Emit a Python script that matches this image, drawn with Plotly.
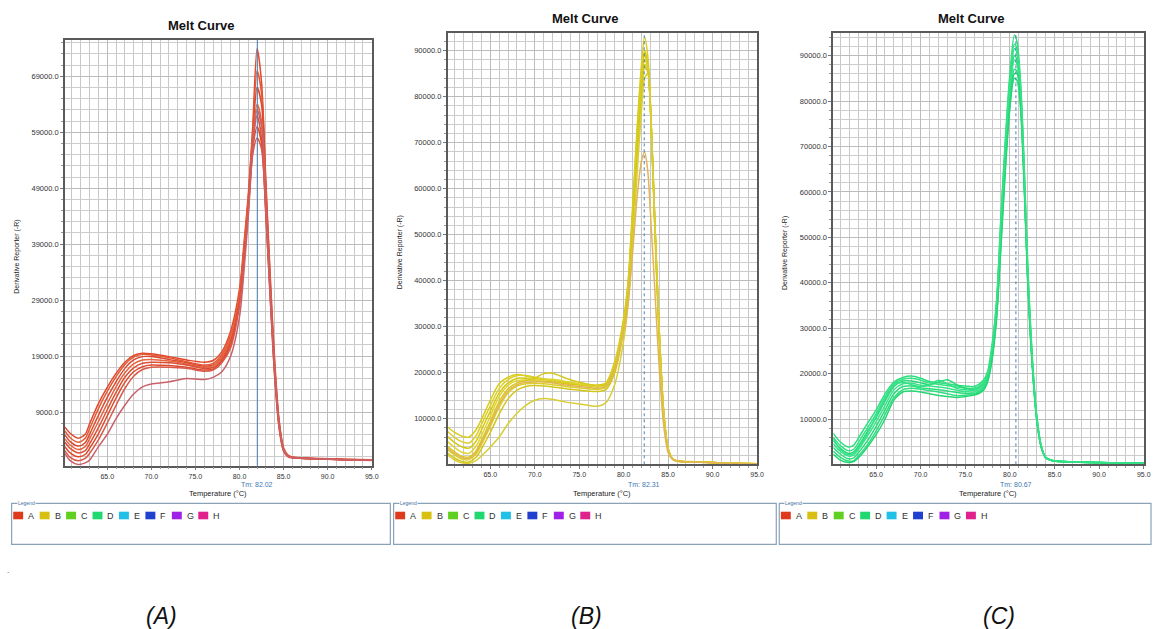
import plotly.graph_objects as go

# ---------------- DATA ----------------
temps_a = [60.2, 60.8, 61.7, 62.5, 63, 64, 65, 66, 67, 68, 69, 70, 72, 74, 76, 77, 78, 79, 80,
           80.5, 81, 81.5, 82, 82.5, 83, 83.5, 84, 84.5, 85, 85.5, 86, 88, 90, 92, 95]
curves_a = [
    [6300, 5200, 4300, 5000, 6900, 10500, 13400, 15900, 17900, 19100, 19500, 19400, 18900, 18300, 17900, 18200, 19800, 23500, 31000, 39000, 48000, 60000, 74000, 68000, 50000, 33000, 18000, 7500, 2600, 1300, 950, 750, 650, 550, 450],
    [5600, 4400, 3600, 4300, 6000, 9600, 12700, 15300, 17500, 18800, 19300, 19200, 18700, 18000, 17400, 17700, 19300, 22800, 30000, 38000, 47000, 59000, 70000, 66000, 49000, 32000, 17000, 7000, 2400, 1200, 900, 700, 600, 500, 400],
    [4900, 3700, 2900, 3500, 5000, 8400, 11600, 14400, 16800, 18300, 18900, 18900, 18400, 17800, 17200, 17400, 18900, 22000, 29000, 37000, 46000, 58000, 67000, 64000, 48000, 31000, 16500, 6800, 2300, 1150, 850, 680, 580, 480, 380],
    [4200, 3100, 2300, 2800, 4200, 7300, 10500, 13500, 16000, 17600, 18300, 18400, 18100, 17600, 17000, 17300, 18800, 22300, 30000, 38000, 47000, 58000, 64000, 61000, 47000, 31000, 17000, 7000, 2400, 1200, 880, 700, 600, 500, 400],
    [3600, 2500, 1700, 2100, 3300, 6200, 9400, 12500, 15200, 16900, 17700, 17900, 17800, 17400, 16800, 17000, 18400, 21500, 29000, 37000, 46000, 57000, 62000, 58000, 45000, 30000, 16000, 6500, 2200, 1100, 850, 680, 580, 480, 380],
    [2800, 1700, 1000, 1400, 2500, 5100, 8300, 11500, 14300, 16200, 17100, 17400, 17300, 17000, 16500, 16700, 18100, 21000, 28500, 36000, 45000, 56000, 60000, 57000, 44000, 29000, 15500, 6300, 2100, 1050, 820, 660, 560, 460, 360],
    [2100, 900, 300, 700, 1600, 4000, 7000, 10200, 13200, 15400, 16600, 17000, 17000, 16800, 16300, 16500, 17800, 20500, 28000, 36000, 45000, 55000, 58000, 56000, 44000, 29000, 15000, 6000, 2000, 1000, 800, 650, 550, 450, 350],
    [1600, 300, -400, -100, 400, 2800, 5000, 7800, 10200, 12200, 13500, 14000, 14400, 15000, 14800, 15200, 16200, 19000, 26000, 34000, 44000, 56000, 63000, 60000, 46000, 30000, 16000, 6500, 2200, 1100, 850, 680, 580, 480, 380],
]
colors_a = ["#e2482a", "#e55a35", "#d94a30", "#e8643f", "#dc5038", "#e04a2c", "#d85a4a", "#c9606a"]

temps_b = [60.2, 61, 61.8, 62.6, 63.4, 64, 65, 66, 67, 68, 69, 70, 71, 72, 73.5, 75, 76, 77, 78, 79, 80,
           80.5, 81, 81.5, 82, 82.35, 82.7, 83, 83.5, 84, 84.5, 85, 85.5, 86, 88, 90, 92, 95]
curves_b = [
    [8200, 7000, 6200, 6000, 7600, 9800, 14000, 17600, 19000, 19600, 19300, 18800, 18500, 18300, 17900, 17600, 17400, 17300, 17800, 22500, 32000, 40000, 56000, 73000, 87000, 93000, 89000, 79000, 52000, 28000, 11000, 3300, 1300, 820, 620, 470, 320, 180],
    [7200, 5900, 5000, 4700, 6300, 8700, 12800, 16600, 18500, 19400, 19400, 19000, 18700, 18400, 17800, 17400, 17200, 17100, 17600, 22000, 31500, 39500, 55000, 72000, 85000, 90000, 87500, 78000, 51000, 27000, 10500, 3100, 1250, 800, 600, 450, 300, 170],
    [6100, 4800, 3900, 3600, 5100, 7500, 11600, 15600, 17800, 18800, 18800, 18400, 18200, 18000, 17600, 17300, 17100, 16900, 17300, 21500, 31000, 39000, 54000, 71000, 84000, 89500, 87000, 78000, 52000, 28000, 11000, 3300, 1300, 820, 620, 470, 320, 180],
    [5000, 3700, 2700, 2500, 4000, 6300, 10500, 14800, 17300, 18300, 18400, 18200, 18300, 18600, 18100, 17600, 17300, 17000, 17200, 21000, 30500, 38500, 53000, 69000, 82000, 88000, 86500, 78000, 53000, 29000, 11500, 3500, 1350, 840, 640, 480, 320, 180],
    [4000, 2800, 1800, 1700, 3000, 5300, 9400, 13700, 16500, 17800, 18300, 18800, 19800, 19900, 18800, 17900, 17500, 17200, 17500, 21500, 31000, 39000, 54000, 70000, 83000, 89000, 87000, 78500, 53000, 29000, 11500, 3400, 1300, 820, 620, 470, 320, 180],
    [3200, 2100, 1200, 1100, 2300, 4300, 8300, 12500, 15600, 17100, 17600, 17700, 17600, 17400, 17000, 16700, 16500, 16400, 16800, 20500, 30000, 38000, 52000, 68000, 81000, 87000, 86000, 78000, 53000, 29000, 11500, 3400, 1300, 820, 620, 470, 320, 180],
    [2500, 1400, 700, 600, 1600, 3400, 7000, 11000, 14300, 16200, 17000, 17200, 17100, 16900, 16500, 16200, 16000, 15900, 16300, 20000, 29500, 37500, 51000, 67000, 80000, 86500, 85500, 77500, 52500, 28500, 11200, 3300, 1250, 800, 600, 450, 300, 170],
    [2100, 1000, 400, 300, 900, 1900, 3800, 6000, 8900, 11200, 12900, 14000, 14400, 14200, 13600, 13200, 12900, 12700, 13500, 17500, 27000, 35000, 48000, 63000, 77000, 84000, 85000, 78000, 53000, 29000, 11500, 3400, 1300, 820, 620, 470, 320, 180],
    [3600, 2400, 1500, 1400, 2700, 4800, 8800, 13000, 16000, 17400, 17900, 18000, 18000, 17800, 17300, 17000, 16800, 16600, 17000, 20800, 29000, 35000, 46000, 58000, 66000, 68000, 64000, 55000, 38000, 21000, 8500, 2600, 1100, 760, 570, 430, 280, 160],
]
colors_b = ["#d8cc1c", "#dccf2a", "#d4c816", "#e0d430", "#d6ca20", "#dbd028", "#d2c61a", "#d8cd36", "#e3b455"]

temps_c = [60.2, 61, 61.9, 62.5, 63, 64, 65, 66, 67, 68, 69, 70, 71, 72, 73, 74, 75, 76, 77, 77.5, 78,
           78.5, 79, 79.5, 80, 80.5, 80.8, 81.2, 81.6, 82, 82.5, 83, 83.5, 84, 84.5, 85, 86, 88, 90, 92, 95]
curves_c = [
    [6900, 5000, 3900, 4300, 5800, 9000, 12000, 15600, 18200, 19200, 19500, 19000, 18300, 18000, 17800, 17500, 17300, 17200, 18500, 20500, 26500, 36000, 55000, 72000, 86000, 94500, 93000, 84000, 66000, 44000, 24000, 11000, 4300, 1700, 1100, 850, 700, 580, 480, 400, 320],
    [6000, 4200, 3100, 3400, 4800, 8000, 11200, 14900, 17800, 18800, 19000, 18600, 18000, 17700, 17400, 17100, 16900, 16800, 18000, 20000, 25500, 35000, 53000, 70000, 84000, 91500, 90500, 82000, 64000, 42000, 23000, 10500, 4100, 1600, 1050, 820, 680, 560, 460, 380, 300],
    [5300, 3600, 2500, 2800, 4000, 7200, 10300, 14000, 17200, 18400, 18400, 18000, 17600, 18200, 18700, 17600, 16800, 16500, 17600, 19600, 25000, 34500, 52000, 69000, 83000, 90000, 89000, 81000, 63000, 41000, 22500, 10200, 4000, 1600, 1050, 820, 680, 560, 460, 380, 300],
    [4600, 2900, 1900, 2100, 3300, 6200, 9400, 13000, 16500, 17800, 17900, 17500, 17300, 17100, 16800, 16400, 16100, 16000, 17200, 19200, 24500, 34000, 51000, 68000, 82000, 89000, 88000, 80500, 63000, 41000, 22500, 10200, 4000, 1600, 1050, 820, 680, 560, 460, 380, 300],
    [3800, 2300, 1300, 1500, 2600, 5200, 8400, 12000, 15600, 17200, 17300, 16900, 16700, 16500, 16200, 15900, 15700, 15600, 16800, 18800, 24000, 33000, 50000, 67000, 80000, 87000, 86500, 79500, 62000, 40000, 22000, 10000, 3900, 1550, 1000, 800, 660, 540, 440, 360, 280],
    [3000, 1600, 800, 900, 1900, 4300, 7400, 11000, 14800, 16500, 16800, 16600, 16300, 16000, 15600, 15200, 15300, 15500, 16500, 18500, 23500, 32500, 49000, 66000, 79000, 85000, 84500, 78000, 61000, 40000, 22000, 10000, 3900, 1550, 1000, 800, 660, 540, 440, 360, 280],
    [2300, 1000, 500, 700, 1500, 3800, 6600, 10000, 14200, 16000, 16200, 16000, 15600, 15200, 15000, 14800, 15000, 15300, 16300, 18200, 23000, 32000, 48000, 65000, 78500, 86000, 86000, 79000, 62000, 41000, 22500, 10200, 4000, 1600, 1050, 820, 680, 560, 460, 380, 300],
    [5800, 3300, 2200, 2500, 3600, 6800, 10600, 14400, 17600, 18100, 17600, 17200, 17600, 18600, 17800, 16800, 16500, 16400, 17800, 19800, 25800, 35500, 54000, 71000, 85000, 92500, 91500, 83000, 65000, 43000, 23500, 10700, 4200, 1650, 1080, 840, 690, 570, 470, 390, 310],
]
colors_c = ["#2ddf7e", "#33e285", "#28d877", "#3ae38a", "#2adb7b", "#30e080", "#26d574", "#36e287"]

tm_values = [82.02, 82.31, 80.67]
tm_labels = ["Tm: 82.02", "Tm: 82.31", "Tm: 80.67"]
panel_labels = ["(A)", "(B)", "(C)"]
legend_names = ["A", "B", "C", "D", "E", "F", "G", "H"]
legend_colors = ["#e03a1c", "#d8c010", "#60d020", "#20d870", "#20c0e8", "#2040d0", "#a020e8", "#e0208c"]
x_ticks = [65, 70, 75, 80, 85, 90, 95]

# ---------------- LAYOUT ----------------
W, H = 1160, 629
def px(x): return x / W
def py(y): return 1 - y / H

# plot boxes (left, top, right, bottom) in pixels
boxes = [(65.3, 40.0, 374.0, 465.7), (450.3, 33.3, 761.7, 464.3), (838.3, 33.3, 1150.7, 464.3)]
y_ranges = [[-600, 75500], [80, 93800], [90, 94900]]
y_tick0 = [9000, 0, 0]
y_minor0 = [1000, 0, 0]
title_pos = [(202, 25.5), (589, 18.3), (977, 18.3)]
ytitle_x = [17, 402, 790]
legend_boxes = [(11.7, 503.3, 392.7, 544.3), (396.0, 503.3, 781.0, 544.3), (784.0, 503.3, 1158.0, 544.3)]
panel_label_x = [162, 590, 1005]

fig = go.Figure()
all_temps = [temps_a, temps_b, temps_c]
all_curves = [curves_a, curves_b, curves_c]
all_colors = [colors_a, colors_b, colors_c]

font_family = "Liberation Sans, Arial, sans-serif"
annotations = []
shapes = []
layout_axes = {}


def txt(text, x, y, size, color="#222", xanchor="center", yanchor="middle", **kw):
    d = dict(text=text, x=x, y=y, xref=kw.pop("xref", "paper"), yref=kw.pop("yref", "paper"),
             xanchor=xanchor, yanchor=yanchor, showarrow=False,
             font=dict(size=size, color=color, family=kw.pop("family", font_family)))
    d.update(kw)
    return d


for i in range(3):
    sfx = "" if i == 0 else str(i + 1)
    xa, ya = "x" + sfx, "y" + sfx
    for j, cv in enumerate(all_curves[i]):
        fig.add_trace(go.Scatter(
            x=all_temps[i], y=cv, mode="lines", xaxis=xa, yaxis=ya,
            line=dict(color=all_colors[i][j % len(all_colors[i])], width=1.5, shape="spline", smoothing=0.8),
            hoverinfo="skip", showlegend=False))
    l, t, r, b = boxes[i]
    layout_axes["xaxis" + sfx] = dict(
        domain=[px(l), px(r)], anchor=ya, range=[60.2, 95.0],
        tickvals=x_ticks, tickformat=".1f", ticks="outside", ticklen=3, tickcolor="#777",
        tickfont=dict(size=7, color="#333", family=font_family),
        showgrid=True, gridcolor="#bcbcbc", gridwidth=1,
        minor=dict(dtick=1, tick0=60, showgrid=True, gridcolor="#c8c8c8", gridwidth=1,
                   ticks="outside", ticklen=2, tickcolor="#999"),
        showline=True, linecolor="#5a5a5a", linewidth=1.5, mirror=True,
        zeroline=False, fixedrange=True)
    layout_axes["yaxis" + sfx] = dict(
        domain=[py(b), py(t)], anchor=xa, range=y_ranges[i],
        tick0=y_tick0[i], dtick=10000, tickformat=".1f", ticks="outside", ticklen=3, tickcolor="#777",
        tickfont=dict(size=7.5, color="#333", family=font_family),
        showgrid=True, gridcolor="#bcbcbc", gridwidth=1,
        minor=dict(dtick=2000, tick0=y_minor0[i], showgrid=True, gridcolor="#cccccc", gridwidth=1,
                   ticks="outside", ticklen=2, tickcolor="#999"),
        showline=True, linecolor="#5a5a5a", linewidth=1.5, mirror=True,
        zeroline=False, fixedrange=True)
    # Tm line
    shapes.append(dict(type="line", xref=xa, yref=ya + " domain", x0=tm_values[i], x1=tm_values[i],
                       y0=0, y1=1, line=dict(color="#4a80b8", width=1, dash="solid" if i == 0 else "dot"),
                       layer="above"))
    # texts
    annotations.append(txt("<b>Melt Curve</b>", px(title_pos[i][0]), py(title_pos[i][1]), 13, "#111"))
    annotations.append(txt("Derivative Reporter (-R)", px(ytitle_x[i]), py((t + b) / 2 + 4), 7,
                           textangle=-90))
    annotations.append(txt("Temperature (°C)", 0.5 * (px(l) + px(r)), py(493), 7.5))
    annotations.append(txt(tm_labels[i], tm_values[i], py(484), 7, "#3f78b0", xref=xa))
    # legend box
    lx0, ly0, lx1, ly1 = legend_boxes[i]
    shapes.append(dict(type="rect", xref="paper", yref="paper", x0=px(lx0), x1=px(lx1), y0=py(ly1), y1=py(ly0),
                       line=dict(color="#8aa2b6", width=1.2), fillcolor="rgba(0,0,0,0)"))
    annotations.append(txt("Legend", px(lx0 + 5), py(ly0), 5, "#4070a0", xanchor="left",
                           bgcolor="white", borderpad=0))
    for k, (nm, col) in enumerate(zip(legend_names, legend_colors)):
        sx = lx0 + 1.6 + k * 26.6
        shapes.append(dict(type="rect", xref="paper", yref="paper", x0=px(sx), x1=px(sx + 10),
                           y0=py(519.3), y1=py(511.7), line=dict(width=0), fillcolor=col))
        annotations.append(txt(nm, px(sx + 13), py(515.5), 9, "#333", xanchor="left"))
    annotations.append(txt("<i>" + panel_labels[i] + "</i>", px(panel_label_x[i]), py(616), 23, "#111",
                           family="Liberation Sans Narrow, Liberation Sans, Arial"))

annotations.append(txt(".", px(8), py(570), 8, "#333"))

fig.update_layout(
    width=W, height=H, margin=dict(l=0, r=0, t=0, b=0),
    paper_bgcolor="white", plot_bgcolor="white", showlegend=False,
    annotations=annotations, shapes=shapes, **layout_axes)

fig.write_html("out.html", include_plotlyjs=True, full_html=True,
               config={"displayModeBar": False, "responsive": False})
